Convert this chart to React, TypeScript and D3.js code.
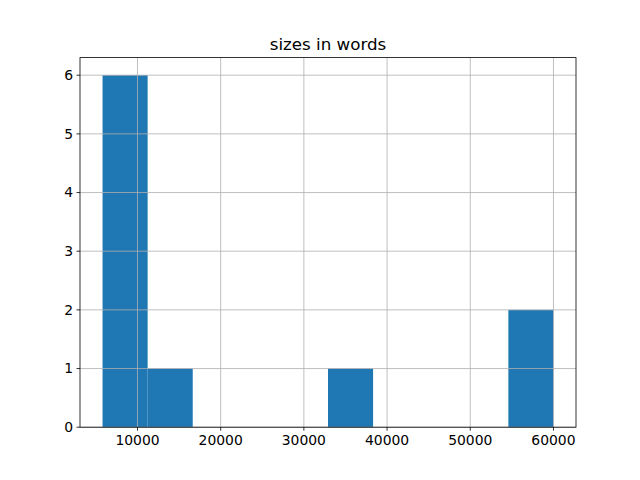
import React from "react";
import * as d3 from "d3";

const sizes: number[] = [5800, 6500, 7200, 8000, 9000, 10500, 12000, 35000, 57000, 60000];
const xTicks: number[] = [10000, 20000, 30000, 40000, 50000, 60000];
const yTicks: number[] = [0, 1, 2, 3, 4, 5, 6];
const title = "sizes in words";
const nBins = 10;

export default function App() {
  const W = 640, H = 480;
  const left = 80, right = 576, top = 57.6, bottom = 427.2;
  const [mn, mx] = d3.extent(sizes) as [number, number];
  const bw = (mx - mn) / nBins;
  const edges = d3.range(nBins + 1).map((i) => mn + i * bw);
  const counts = d3.range(nBins).map((i) =>
    sizes.filter((v) => v >= edges[i] && (i === nBins - 1 ? v <= edges[i + 1] : v < edges[i + 1])).length
  );
  const pad = (mx - mn) * 0.05;
  const x = d3.scaleLinear().domain([mn - pad, mx + pad]).range([left, right]);
  const yMax = d3.max(counts)! * 1.05;
  const y = d3.scaleLinear().domain([0, yMax]).range([bottom, top]);
  const font = "DejaVu Sans, sans-serif";
  return (
    <svg width={W} height={H} style={{ position: "absolute", left: 0, top: 0 }}>
      <rect width={W} height={H} fill="#fff" />
      {counts.map((c, i) =>
        c > 0 ? (
          <rect key={i} x={x(edges[i])} y={y(c)} width={x(edges[i + 1]) - x(edges[i])} height={y(0) - y(c)} fill="#1f77b4" />
        ) : null
      )}
      {xTicks.map((t) => (
        <line key={"gx" + t} x1={x(t)} x2={x(t)} y1={top} y2={bottom} stroke="#b0b0b0" strokeWidth={0.8} />
      ))}
      {yTicks.map((t) => (
        <line key={"gy" + t} x1={left} x2={right} y1={y(t)} y2={y(t)} stroke="#b0b0b0" strokeWidth={0.8} />
      ))}
      <rect x={left} y={top} width={right - left} height={bottom - top} fill="none" stroke="#000" strokeWidth={0.8} />
      {xTicks.map((t) => (
        <g key={"tx" + t}>
          <line x1={x(t)} x2={x(t)} y1={bottom} y2={bottom + 3.5} stroke="#000" strokeWidth={0.8} />
          <text x={x(t)} y={bottom + 18} textAnchor="middle" fontFamily={font} fontSize={13.9} fill="#000">{t}</text>
        </g>
      ))}
      {yTicks.map((t) => (
        <g key={"ty" + t}>
          <line x1={left - 3.5} x2={left} y1={y(t)} y2={y(t)} stroke="#000" strokeWidth={0.8} />
          <text x={left - 7} y={y(t)} dy="0.35em" textAnchor="end" fontFamily={font} fontSize={13.9} fill="#000">{t}</text>
        </g>
      ))}
      <text x={(left + right) / 2} y={top - 8} textAnchor="middle" fontFamily={font} fontSize={16.7} fill="#000">{title}</text>
    </svg>
  );
}
